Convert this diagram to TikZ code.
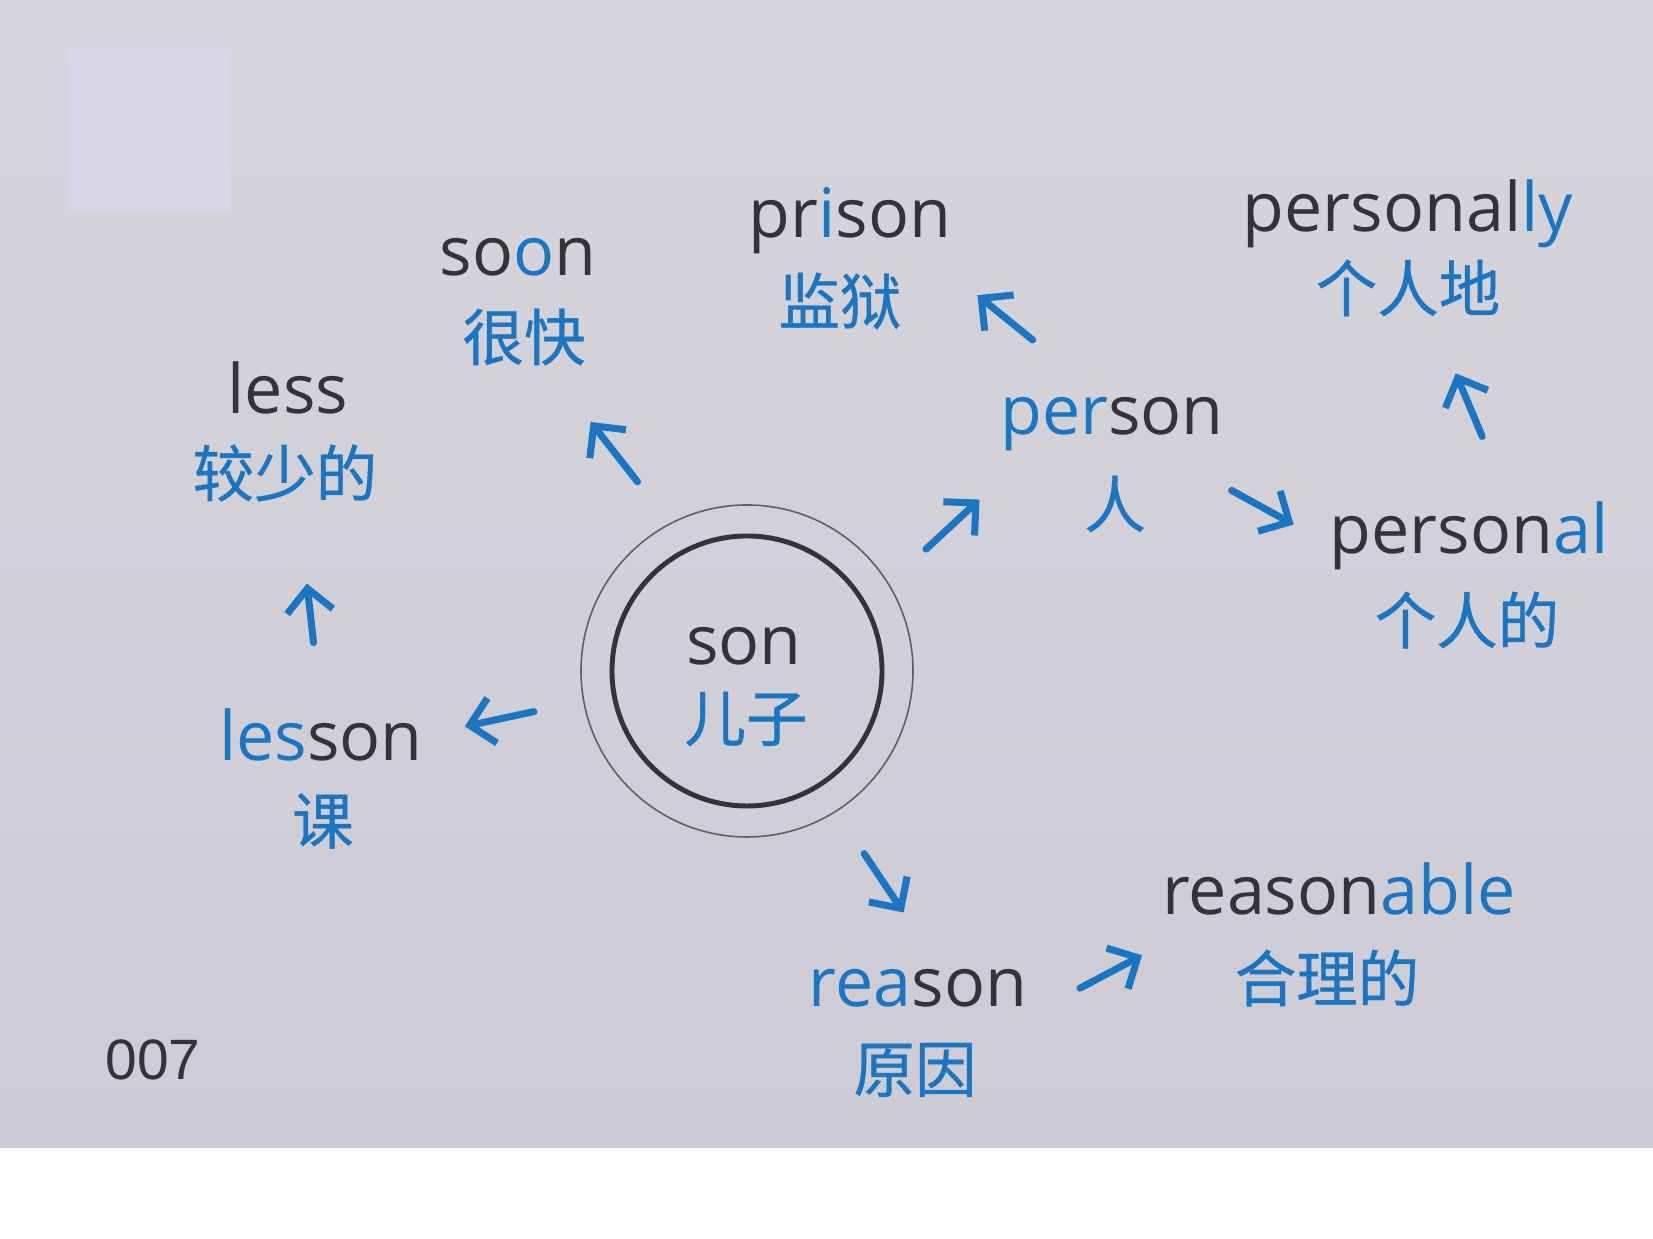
\documentclass[tikz,border=0pt]{standalone}
\usepackage{fontspec}
\setmainfont{Open Sans}
\newfontfamily\zhfont{Noto Sans CJK SC}[FakeBold=0.6]
\newfontfamily\numfont{Liberation Sans}
\usepackage{tikz}
\usetikzlibrary{arrows.meta,positioning,calc}
\definecolor{inkdark}{RGB}{50,52,58}
\definecolor{wordblue}{RGB}{28,117,192}
\definecolor{paper}{RGB}{222,221,229}
\definecolor{papertop}{RGB}{214,213,219}
\definecolor{paperbot}{RGB}{205,203,212}
\definecolor{patch}{RGB}{214,214,230}
\definecolor{ringgray}{RGB}{95,95,100}
\newcommand{\dk}[1]{\textcolor{inkdark}{#1}}
\newcommand{\bl}[1]{\textcolor{wordblue}{#1}}

\begin{document}
\begin{tikzpicture}[
    en/.style={anchor=base, inner sep=0pt, outer sep=0pt, text=inkdark, font=\fontsize{19.4}{23}\selectfont},
    zh/.style={inner sep=0pt, outer sep=0pt, text=wordblue, font=\zhfont\fontsize{17.5}{21}\selectfont},
    core/.style={circle, draw=inkdark, line width=1.4pt, minimum size=2.7cm, inner sep=0pt, outer sep=0pt},
    ring/.style={circle, draw=ringgray, line width=0.45pt, minimum size=3.32cm, inner sep=0pt},
    arr/.style={draw=wordblue, line width=2pt, line cap=round, -{Straight Barb[length=2.3mm, width=4.6mm]}}
]

% Background
\useasboundingbox (0,0) rectangle (16.53,12.39);
\fill[white] (0,0) rectangle (16.53,12.39);
\shade[top color=papertop, middle color=paper, bottom color=paperbot] (0,0.91) rectangle (16.53,12.39);
\fill[patch] (0.68,10.29) rectangle (2.30,11.91);

% Centre word
\node[core] (son) at (7.47, 5.68) {};
\node[ring] (son-ring) at (son) {};
\node[en] (son-en) at (7.44, 5.74) {son};
\node[zh] (son-zh) at (7.46, 5.20) {儿子};

% Words round it
\node[en] (soon) at (5.18, 9.63) {\dk{so}\bl{o}\dk{n}};
\node[zh] (soon-zh) at (5.24, 9.02) {很快};

\node[en] (prison) at (8.50, 10.01) {\dk{pr}\bl{i}\dk{son}};
\node[zh] (prison-zh) at (8.40, 9.38) {监狱};

\node[en] (personally) at (14.08, 10.07) {\dk{personal}\bl{ly}};
\node[zh] (personally-zh) at (14.08, 9.51) {个人地};

\node[en] (person) at (11.12, 8.04) {\bl{per}\dk{son}};
\node[zh] (person-zh) at (11.15, 7.35) {人};

\node[en] (personal) at (14.69, 6.85) {\dk{person}\bl{al}};
\node[zh] (personal-zh) at (14.67, 6.19) {个人的};

\node[en] (less) at (2.88, 8.25) {less};
\node[zh] (less-zh) at (2.85, 7.66) {较少的};

\node[en] (lesson) at (3.21, 4.78) {\bl{les}\dk{son}};
\node[zh] (lesson-zh) at (3.23, 4.18) {课};

\node[en] (reason) at (9.18, 2.32) {\bl{rea}\dk{son}};
\node[zh] (reason-zh) at (9.15, 1.69) {原因};

\node[en] (reasonable) at (13.39, 3.24) {\dk{reason}\bl{able}};
\node[zh] (reasonable-zh) at (13.27, 2.61) {合理的};

% Page number
\node[en, font=\numfont\fontsize{16.2}{19}\selectfont] (page) at (1.53, 1.59) {007};

% Arrows
\draw[arr, shorten <=0.85cm, shorten >=1.08cm] (son.115) -- (soon-zh.center);
\draw[arr, shorten <=0.92cm, shorten >=0.65cm] ($(person.north west)!0.93!(person.north)$) -- ($(prison.south west)!0.88!(prison.south east)$);
\draw[arr, shorten <=0.83cm, shorten >=0.71cm] (son.29) -- ($(person.south west)!0.14!(person.south east)$);
\draw[arr, shorten <=1.366cm, shorten >=1.979cm] (person.center) -- (personal-zh.center);
\draw[arr, shorten <=1.99cm, shorten >=1.233cm] (personal-zh.east) -- (personally-zh.north);
\draw[arr, shorten <=0.67cm, shorten >=1.70cm] (lesson.north) -- (less.south);
\draw[arr, shorten <=0.82cm, shorten >=0.43cm] (son.190) -- (lesson.east);
\draw[arr, shorten <=0.82cm, shorten >=0.69cm] (son.302) -- ($(reason.north)!0.22!(reason.north east)$);
\draw[arr, shorten <=1.17cm, shorten >=0.557cm] (reason-zh.north east) -- ($(reasonable.south west)!0.4!(reasonable-zh.north west)$);

\end{tikzpicture}
\end{document}
